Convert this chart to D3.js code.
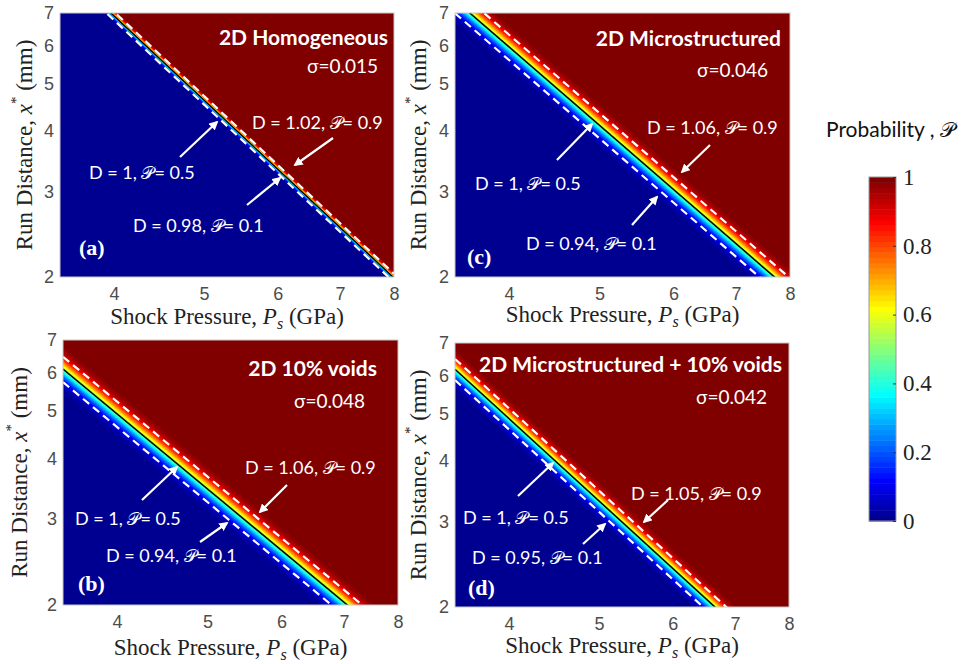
<!DOCTYPE html>
<html>
<head>
<meta charset="utf-8">
<script src="https://cdn.jsdelivr.net/npm/d3@7"></script>
<style>
  body { margin: 0; background: #fff; }
  svg { display: block; }
  .tick text { font-family: "Liberation Sans", Arial, sans-serif; font-size: 18px; fill: #4d4d4d; }
  .cbar .tick text { font-family: "Liberation Serif", "Times New Roman", serif; font-size: 23px; fill: #222; }
  .axis-label { font-family: "Liberation Serif", "Times New Roman", serif; font-size: 23px; fill: #222; }
  .note { font-family: Lato, sans-serif; fill: #fff; }
</style>
</head>
<body>
<script>
// panels in reading order of the picture: (a) top-left, (c) top-right, (b) bottom-left, (d) bottom-right
const panelTags = ["(a)", "(c)", "(b)", "(d)"];
const panelTitles = ["2D Homogeneous", "2D Microstructured", "2D 10% voids", "2D Microstructured + 10% voids"];
const sigmas = [0.015, 0.046, 0.048, 0.042];
const dLow = [0.98, 0.94, 0.94, 0.95];
const dHigh = [1.02, 1.06, 1.06, 1.05];
// pressure (GPa) on the D = 1 pop-plot line at x* = 7 mm and at x* = 2 mm
const popP7 = [3.97, 3.63, 3.21, 3.26];
const popP2 = [7.98, 7.70, 7.06, 6.66];

const xTicks = [4, 5, 6, 7, 8];
const yTicks = [2, 3, 4, 5, 6, 7];
const cbTicks = [0, 0.2, 0.4, 0.6, 0.8, 1];
const cbTickLabels = ["0", "0.2", "0.4", "0.6", "0.8", "1"];

const jetStops = [0, 0.125, 0.375, 0.625, 0.875, 1];
const jetColors = ["#000080", "#0000ff", "#00ffff", "#ffff00", "#ff0000", "#800000"];

const SCRIPT_P = "\u{1D4AB}";

// where each panel sits on the page
const layout = [
  {left: 60, top: 13, w: 334, h: 264, ylabX: 24, xlabDy: 47},
  {left: 455, top: 13, w: 335, h: 264, ylabX: 418, xlabDy: 45},
  {left: 63, top: 340, w: 335, h: 265, ylabX: 19, xlabDy: 50},
  {left: 455, top: 343, w: 334, h: 264, ylabX: 418, xlabDy: 46}
];

// annotation spots, px from the plot's top-left corner
const notes = [
  {title: [328, 23], sigma: [318, 52], hi: [192, 109], hiArrow: [273, 125, 235, 152],
   mid: [29, 159], midArrow: [120, 144, 157, 109], lo: [73, 212], loArrow: [187, 192, 220, 165], tag: [19, 234]},
  {title: [326, 24], sigma: [313, 56], hi: [192, 114], hiArrow: [255, 132, 227, 159],
   mid: [20, 170], midArrow: [102, 147, 137, 111], lo: [71, 230], loArrow: [177, 212, 202, 184], tag: [12, 243]},
  {title: [314, 27], sigma: [302, 60], hi: [182, 127], hiArrow: [224, 145, 197, 172],
   mid: [12, 178], midArrow: [79, 160, 114, 127], lo: [43, 215], loArrow: [137, 202, 164, 183], tag: [15, 243]},
  {title: [327, 20], sigma: [312, 53], hi: [176, 150], hiArrow: [213, 157, 189, 179],
   mid: [8, 174], midArrow: [63, 153, 98, 120], lo: [17, 214], loArrow: [128, 201, 150, 181], tag: [13, 244]}
];

const W = 964, H = 664;
const svg = d3.select("body").append("svg").attr("width", W).attr("height", H);
const defs = svg.append("defs");

defs.append("marker")
    .attr("id", "head")
    .attr("viewBox", "0 0 10 10")
    .attr("refX", 8).attr("refY", 5)
    .attr("markerWidth", 4.2).attr("markerHeight", 4.2)
    .attr("orient", "auto")
  .append("path")
    .attr("d", "M0,0L10,5L0,10Z")
    .attr("fill", "#fff");

const jet = d3.scaleLinear().domain(jetStops).range(jetColors).interpolate(d3.interpolateRgb);
const nLevels = 64;
const palette = d3.range(nLevels).map(i => d3.rgb(jet((i + 1) / nLevels)));
const level = p => Math.min(nLevels - 1, Math.max(0, Math.floor(p * nLevels)));

// standard normal cdf (Abramowitz & Stegun 7.1.26)
function normCdf(z) {
  const t = 1 / (1 + 0.3275911 * Math.abs(z) / Math.SQRT2);
  const e = 1 - (((((1.061405429 * t - 1.453152027) * t) + 1.421413741) * t - 0.284496736) * t + 0.254829592) * t * Math.exp(-z * z / 2);
  return z >= 0 ? 0.5 * (1 + e) : 0.5 * (1 - e);
}

function addNote(g, pos, text, size, bold, anchor) {
  return g.append("text")
      .attr("class", "note")
      .attr("x", pos[0]).attr("y", pos[1])
      .attr("dominant-baseline", "central")
      .attr("text-anchor", anchor || "start")
      .style("font-size", size + "px")
      .style("font-weight", bold ? 700 : 400)
      .text(text);
}

function addArrow(g, a) {
  g.append("line")
      .attr("x1", a[0]).attr("y1", a[1])
      .attr("x2", a[2]).attr("y2", a[3])
      .attr("stroke", "#fff")
      .attr("stroke-width", 2.2)
      .attr("marker-end", "url(#head)");
}

layout.forEach((L, k) => {
  const x = d3.scaleLog().domain([3.5, 8]).range([0, L.w]);
  const y = d3.scaleLog().domain([2, 7]).range([L.h, 0]);
  const g = svg.append("g").attr("transform", `translate(${L.left},${L.top})`);

  // run distance on the D = 1 pop-plot line (straight in log-log)
  const lp7 = Math.log(popP7[k]), lp2 = Math.log(popP2[k]);
  const x50 = P => Math.exp(Math.log(7) + (Math.log(P) - lp7) / (lp2 - lp7) * (Math.log(2) - Math.log(7)));

  // probability field, one pixel at a time: D = x* / x50(P), lognormal in D
  const canvas = d3.create("canvas").attr("width", L.w).attr("height", L.h).node();
  const ctx = canvas.getContext("2d");
  const img = ctx.createImageData(L.w, L.h);
  const xm = d3.range(L.w).map(i => x50(x.invert(i + 0.5)));
  for (let j = 0; j < L.h; j++) {
    const r = y.invert(j + 0.5);
    for (let i = 0; i < L.w; i++) {
      const c = palette[level(normCdf(Math.log(r / xm[i]) / sigmas[k]))];
      const o = (j * L.w + i) * 4;
      img.data[o] = c.r;
      img.data[o + 1] = c.g;
      img.data[o + 2] = c.b;
      img.data[o + 3] = 255;
    }
  }
  ctx.putImageData(img, 0, 0);
  g.append("image")
      .attr("width", L.w).attr("height", L.h)
      .attr("preserveAspectRatio", "none")
      .attr("href", canvas.toDataURL());

  const clipId = "clip" + k;
  defs.append("clipPath").attr("id", clipId)
    .append("rect").attr("width", L.w).attr("height", L.h);

  const lines = g.append("g").attr("clip-path", `url(#${clipId})`);
  const line = d3.line().x(d => x(d[0])).y(d => y(d[1]));
  const pressures = x.domain();

  [dLow[k], dHigh[k]].forEach(D => {
    lines.append("path")
        .attr("d", line(pressures.map(P => [P, D * x50(P)])))
        .attr("fill", "none")
        .attr("stroke", "#fff")
        .attr("stroke-width", 2.2)
        .attr("stroke-dasharray", "8,5");
  });
  lines.append("path")
      .attr("d", line(pressures.map(P => [P, x50(P)])))
      .attr("fill", "none")
      .attr("stroke", "#000")
      .attr("stroke-width", 1.5);

  g.append("rect")
      .attr("width", L.w).attr("height", L.h)
      .attr("fill", "none")
      .attr("stroke", "#c8c8c8")
      .attr("stroke-width", 1);

  // axes
  const ax = g.append("g")
      .attr("transform", `translate(0,${L.h})`)
      .call(d3.axisBottom(x).tickValues(xTicks).tickFormat(d3.format("d")).tickSize(0).tickPadding(10));
  ax.select(".domain").remove();

  const ay = g.append("g")
      .call(d3.axisLeft(y).tickValues(yTicks).tickFormat(d3.format("d")).tickSize(0).tickPadding(6));
  ay.select(".domain").remove();

  const xl = g.append("text")
      .attr("class", "axis-label")
      .attr("x", L.w / 2)
      .attr("y", L.h + L.xlabDy)
      .attr("text-anchor", "middle");
  xl.append("tspan").text("Shock Pressure, ");
  xl.append("tspan").style("font-style", "italic").text("P");
  xl.append("tspan").style("font-style", "italic").style("font-size", "16px").attr("dy", 5).text("s");
  xl.append("tspan").attr("dy", -5).text(" (GPa)");

  const yl = svg.append("text")
      .attr("class", "axis-label")
      .attr("transform", `translate(${L.ylabX},${L.top + L.h / 2}) rotate(-90)`)
      .attr("dominant-baseline", "central")
      .attr("text-anchor", "middle");
  yl.append("tspan").text("Run Distance, ");
  yl.append("tspan").style("font-style", "italic").text("x");
  yl.append("tspan").style("font-size", "15px").attr("dy", -8).text("*");
  yl.append("tspan").attr("dy", 8).text(" (mm)");

  // annotations
  const n = notes[k];
  addNote(g, n.title, panelTitles[k], 21, true, "end");
  addNote(g, n.sigma, "\u03c3=" + sigmas[k], 19, false, "end");
  addNote(g, n.hi, `D = ${dHigh[k]}, ${SCRIPT_P}= 0.9`, 18, false);
  addNote(g, n.mid, `D = 1, ${SCRIPT_P}= 0.5`, 18, false);
  addNote(g, n.lo, `D = ${dLow[k]}, ${SCRIPT_P}= 0.1`, 18, false);
  addArrow(g, n.hiArrow);
  addArrow(g, n.midArrow);
  addArrow(g, n.loArrow);

  g.append("text")
      .attr("x", n.tag[0]).attr("y", n.tag[1])
      .attr("dominant-baseline", "central")
      .style("font-family", "'Liberation Serif', 'Times New Roman', serif")
      .style("font-weight", 700)
      .style("font-size", "22px")
      .style("fill", "#fff")
      .text(panelTags[k]);
});

// colour bar
const cb = {left: 869, top: 177, w: 27, h: 344};
const cy = d3.scaleLinear().domain([0, 1]).range([cb.top + cb.h, cb.top]);
const cbar = svg.append("g").attr("class", "cbar");
cbar.selectAll("rect.band")
  .data(palette)
  .join("rect")
    .attr("class", "band")
    .attr("x", cb.left)
    .attr("y", (d, i) => cy((i + 1) / nLevels))
    .attr("width", cb.w)
    .attr("height", cb.h / nLevels + 0.5)
    .attr("fill", d => d);
cbar.append("rect")
    .attr("x", cb.left).attr("y", cb.top)
    .attr("width", cb.w).attr("height", cb.h)
    .attr("fill", "none")
    .attr("stroke", "#999")
    .attr("stroke-width", 1);
const cax = cbar.append("g")
    .attr("transform", `translate(${cb.left + cb.w},0)`)
    .call(d3.axisRight(cy).tickValues(cbTicks).tickFormat((d, i) => cbTickLabels[i])
      .tickSizeInner(-3).tickSizeOuter(0).tickPadding(7));
cax.select(".domain").remove();
cax.selectAll(".tick line").attr("stroke", "#333");

svg.append("text")
    .attr("x", 826).attr("y", 137)
    .style("font-family", "Lato, sans-serif")
    .style("font-size", "21px")
    .style("fill", "#111")
    .text(`Probability , ${SCRIPT_P}`);
</script>
</body>
</html>
